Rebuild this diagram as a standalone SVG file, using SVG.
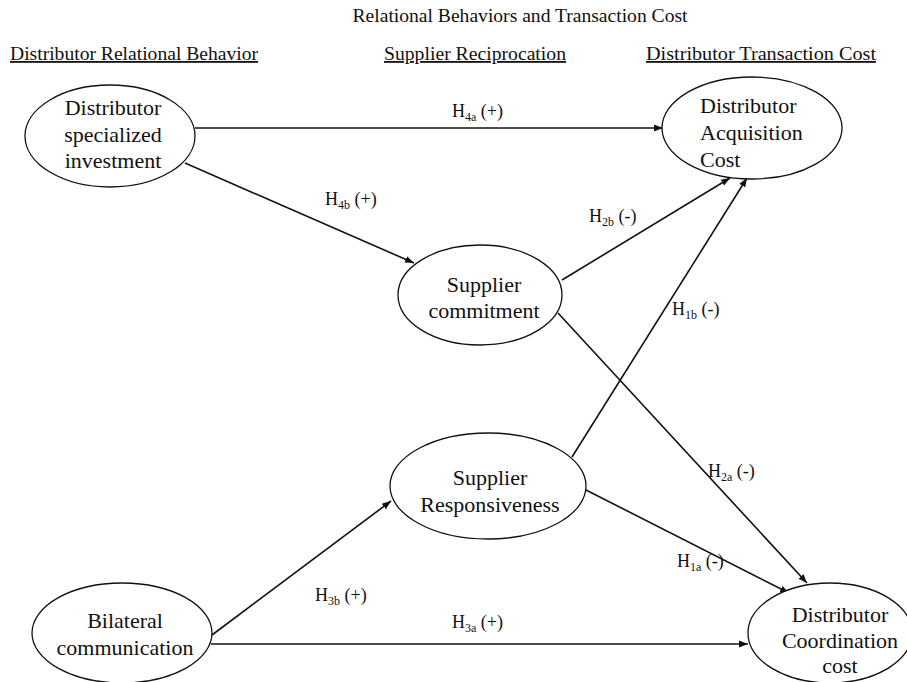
<svg xmlns="http://www.w3.org/2000/svg" width="907" height="682" viewBox="0 0 907 682">
<style>
text{font-family:"Liberation Serif","Times New Roman",serif;fill:#111}
.hd{font-size:18px;text-decoration:underline}
.nd{font-family:"Liberation Serif","Times New Roman",serif;font-size:22px;text-anchor:middle}
.lb{font-size:18px}
.sb{font-size:12px}
ellipse{fill:#fff;stroke:#111;stroke-width:1.3}
.cn line{stroke:#111;stroke-width:1.6;marker-end:url(#ah)}
</style>
<defs>
<marker id="ah" viewBox="0 0 10 10" refX="10" refY="5" markerWidth="9" markerHeight="9" markerUnits="userSpaceOnUse" orient="auto">
<path d="M0,1.2 L10,5 L0,8.8 Z" fill="#111"/>
</marker>
</defs>
<text x="520" y="22" font-size="18" text-anchor="middle" textLength="335" lengthAdjust="spacingAndGlyphs">Relational Behaviors and Transaction Cost</text>
<text class="hd" x="10" y="60" textLength="248" lengthAdjust="spacingAndGlyphs">Distributor Relational Behavior</text>
<text class="hd" x="384" y="60" textLength="182" lengthAdjust="spacingAndGlyphs">Supplier Reciprocation</text>
<text class="hd" x="646" y="60" textLength="230" lengthAdjust="spacingAndGlyphs">Distributor Transaction Cost</text>
<g class="cn" id="connectors">
<line x1="195" y1="128" x2="663" y2="128"/>
<line x1="185" y1="163" x2="414" y2="263"/>
<line x1="562" y1="280" x2="730" y2="178"/>
<line x1="572" y1="457" x2="747" y2="178"/>
<line x1="558" y1="313" x2="807" y2="583"/>
<line x1="584" y1="489" x2="789" y2="593"/>
<line x1="212" y1="635" x2="391" y2="501"/>
<line x1="211" y1="644" x2="748" y2="644"/>
</g>
<g id="labels">
<text class="lb" x="452" y="117">H<tspan class="sb" dy="4">4a</tspan><tspan dy="-4"> (+)</tspan></text>
<text class="lb" x="325" y="205">H<tspan class="sb" dy="4">4b</tspan><tspan dy="-4"> (+)</tspan></text>
<text class="lb" x="589" y="222">H<tspan class="sb" dy="4">2b</tspan><tspan dy="-4"> (-)</tspan></text>
<text class="lb" x="672" y="315">H<tspan class="sb" dy="4">1b</tspan><tspan dy="-4"> (-)</tspan></text>
<text class="lb" x="708" y="477">H<tspan class="sb" dy="4">2a</tspan><tspan dy="-4"> (-)</tspan></text>
<text class="lb" x="677" y="567">H<tspan class="sb" dy="4">1a</tspan><tspan dy="-4"> (-)</tspan></text>
<text class="lb" x="315" y="601">H<tspan class="sb" dy="4">3b</tspan><tspan dy="-4"> (+)</tspan></text>
<text class="lb" x="452" y="628">H<tspan class="sb" dy="4">3a</tspan><tspan dy="-4"> (+)</tspan></text>
</g>
<g id="n-dsi">
<ellipse cx="110" cy="136" rx="85" ry="51"/>
<text class="nd" x="113" y="115">Distributor</text>
<text class="nd" x="113" y="142">specialized</text>
<text class="nd" x="113" y="168">investment</text>
</g>
<g id="n-dac">
<ellipse cx="752" cy="128" rx="90" ry="51"/>
<text class="nd" x="700" y="113" style="text-anchor:start">Distributor</text>
<text class="nd" x="700" y="140" style="text-anchor:start">Acquisition</text>
<text class="nd" x="700" y="167" style="text-anchor:start">Cost</text>
</g>
<g id="n-sc">
<ellipse cx="480" cy="295" rx="82" ry="50"/>
<text class="nd" x="484" y="292">Supplier</text>
<text class="nd" x="484" y="318">commitment</text>
</g>
<g id="n-sr">
<ellipse cx="488" cy="486" rx="98" ry="53"/>
<text class="nd" x="490" y="485">Supplier</text>
<text class="nd" x="490" y="512">Responsiveness</text>
</g>
<g id="n-bc">
<ellipse cx="122" cy="633" rx="90" ry="50"/>
<text class="nd" x="125" y="628">Bilateral</text>
<text class="nd" x="125" y="655">communication</text>
</g>
<g id="n-dcc">
<ellipse cx="830" cy="633" rx="82" ry="50"/>
<text class="nd" x="840" y="622">Distributor</text>
<text class="nd" x="840" y="648">Coordination</text>
<text class="nd" x="840" y="673">cost</text>
</g>
</svg>
